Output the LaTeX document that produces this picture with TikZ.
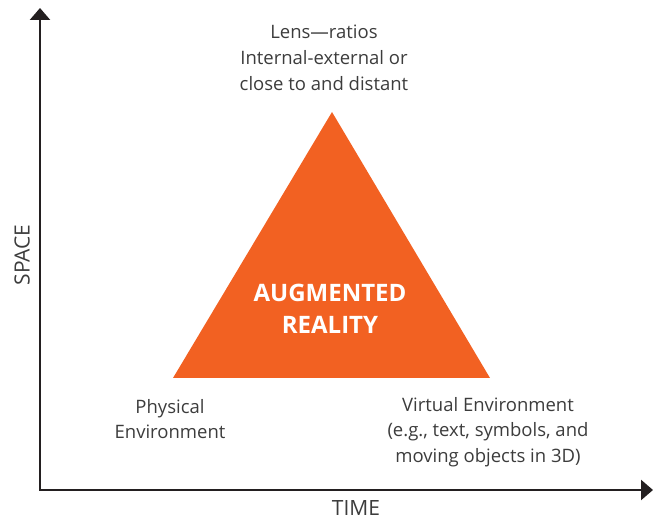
\documentclass[tikz,border=0pt]{standalone}
\usepackage{fontspec}
\setmainfont{Open Sans}
\usetikzlibrary{arrows.meta, positioning}
\definecolor{arorange}{HTML}{F26122}
\definecolor{axisgray}{HTML}{231F20}
\definecolor{labelgray}{HTML}{3C3C3C}

\begin{document}
\begin{tikzpicture}[x=1pt, y=-1pt,
    axis/.style={draw=axisgray, line width=2.4pt, {Triangle[width=20pt,length=12pt]}-{Triangle[width=20pt,length=12pt]}},
    lbl/.style={text=labelgray, align=center, font=\fontsize{18.5}{25.8}\selectfont, inner sep=0pt},
    axlbl/.style={text=labelgray, font=\fontsize{21}{26}\selectfont, inner sep=0pt},
    core/.style={text=white, align=center, font=\fontsize{24}{32}\selectfont\bfseries, inner sep=0pt}]
    \useasboundingbox (0,0) rectangle (654,521);

    \coordinate (origin) at (40,490);
    \coordinate (ytip) at (40,8);
    \coordinate (xtip) at (653,490);
    \draw[axis] (ytip) -- (origin) -- (xtip);

    % the triangle
    \coordinate (apex) at (332,112);
    \coordinate (bl) at (173,378);
    \coordinate (br) at (490,378);
    \fill[arorange] (apex) -- (bl) -- (br) -- cycle;
    \node[core] (ar) at (330,309) {AUGMENTED\\REALITY};

    \node[lbl] (lens) at (324,58) {Lens---ratios\\Internal-external or\\close to and distant};
    \node[lbl] (phys) at (170,419) {Physical\\Environment};
    \node[lbl] (virt) at (488,432) {Virtual Environment\\(e.g., text, symbols, and\\moving objects in 3D)};

    \node[axlbl, rotate=90] (space) at (22,255) {SPACE};
    \node[axlbl] (time) at (356,508) {TIME};
\end{tikzpicture}
\end{document}
